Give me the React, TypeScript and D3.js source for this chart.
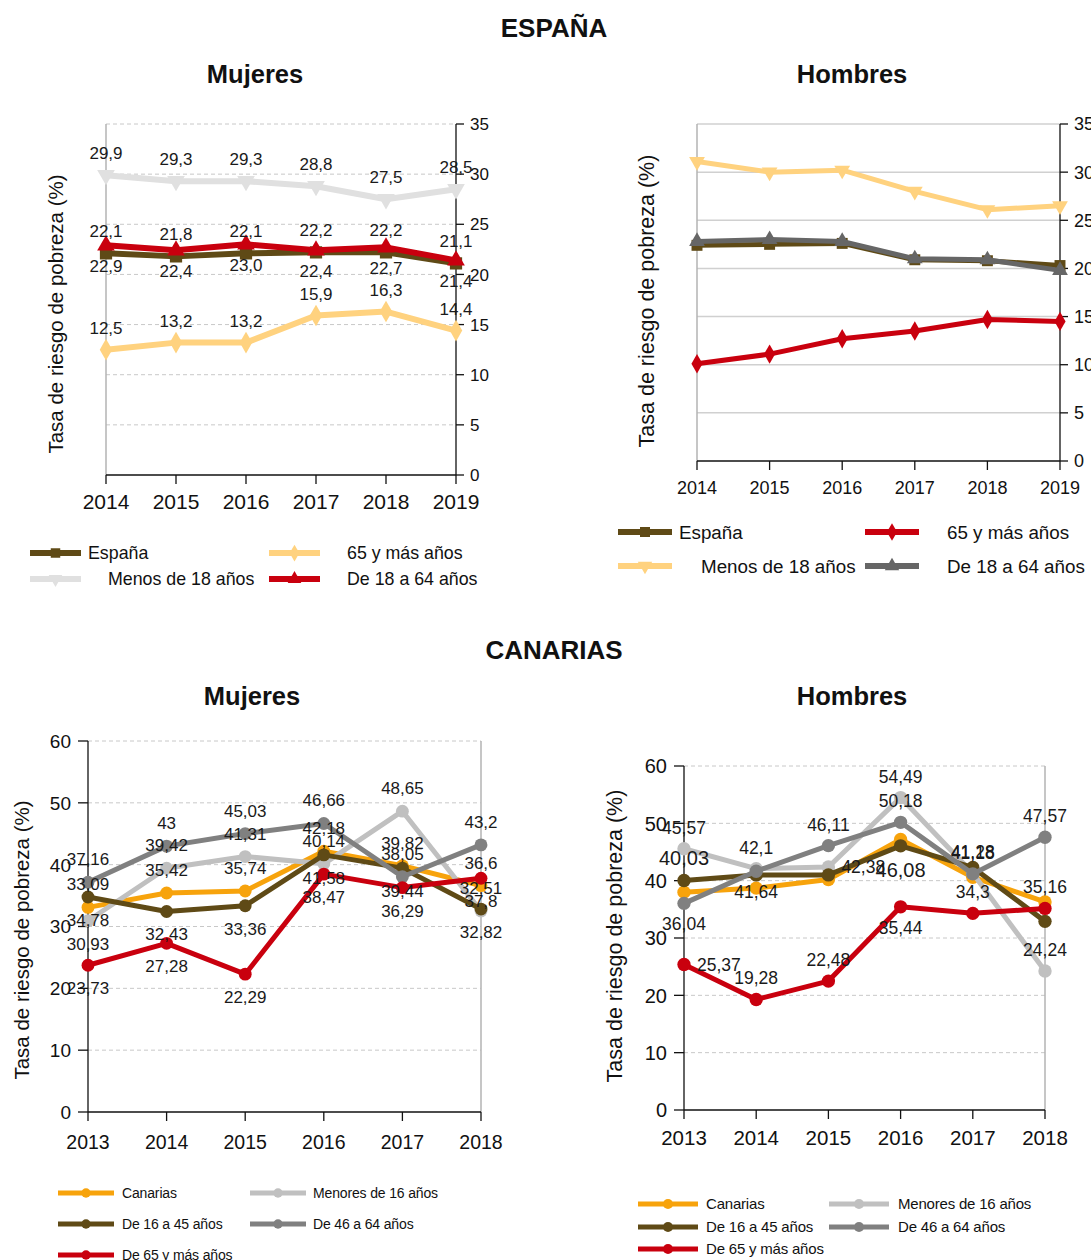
import React from 'react';
import * as d3 from 'd3';

const FONT = "'Liberation Sans', Arial, Helvetica, sans-serif";

// ---------- ESPAÑA ----------
const yearsEsp = [2014, 2015, 2016, 2017, 2018, 2019];
const espTicks = [0, 5, 10, 15, 20, 25, 30, 35];

const espMujEspana = [22.1, 21.8, 22.1, 22.2, 22.2, 21.1];
const espMujMenos18 = [29.9, 29.3, 29.3, 28.8, 27.5, 28.5];
const espMuj65 = [12.5, 13.2, 13.2, 15.9, 16.3, 14.4];
const espMuj18a64 = [22.9, 22.4, 23.0, 22.4, 22.7, 21.4];

const espHomEspana = [22.4, 22.5, 22.6, 20.9, 20.8, 20.3];
const espHomMenos18 = [31.1, 30.0, 30.2, 28.0, 26.1, 26.5];
const espHom65 = [10.1, 11.1, 12.7, 13.5, 14.7, 14.5];
const espHom18a64 = [22.8, 23.0, 22.8, 21.0, 20.9, 19.8];

// ---------- CANARIAS ----------
const yearsCan = [2013, 2014, 2015, 2016, 2017, 2018];
const canTicks = [0, 10, 20, 30, 40, 50, 60];

const canMujCanarias = [33.09, 35.42, 35.74, 42.18, 39.82, 36.6];
const canMujMenores16 = [30.93, 39.42, 41.31, 40.14, 48.65, 32.51];
const canMuj16a45 = [34.78, 32.43, 33.36, 41.58, 39.44, 32.82];
const canMuj46a64 = [37.16, 43, 45.03, 46.66, 38.05, 43.2];
const canMuj65 = [23.73, 27.28, 22.29, 38.47, 36.29, 37.8];

const canHomCanarias = [38.0, 38.7, 40.2, 47.2, 40.6, 36.3];
const canHomMenores16 = [45.57, 42.1, 42.38, 54.49, 41.28, 24.24];
const canHom16a45 = [40.03, 41.0, 41.0, 46.08, 42.3, 32.9];
const canHom46a64 = [36.04, 41.64, 46.11, 50.18, 41.18, 47.57];
const canHom65 = [25.37, 19.28, 22.48, 35.44, 34.3, 35.16];

// data-label placement: a = above, b = below, r = right, null = no label
type LP = 'a' | 'b' | 'r' | null;
const allA: LP[] = ['a', 'a', 'a', 'a', 'a', 'a'];
const allB: LP[] = ['b', 'b', 'b', 'b', 'b', 'b'];
const none: LP[] = [null, null, null, null, null, null];
const canMujMenores16Pos: LP[] = ['b', 'a', 'a', 'a', 'a', 'a'];
const canHomMenores16Pos: LP[] = ['a', 'a', 'r', 'a', 'a', 'a'];
const canHom16a45Pos: LP[] = ['a', null, null, 'b', null, null];
const canHom46a64Pos: LP[] = ['b', 'b', 'a', 'a', 'a', 'a'];
const canHom65Pos: LP[] = ['r', 'a', 'a', 'b', 'a', 'a'];

const C = {
  brown: '#5f4a16',
  lightGray: '#e0e0e0',
  paleOrange: '#ffd27f',
  red: '#c9000e',
  darkGray: '#666666',
  orange: '#f7a30c',
  silver: '#c0c0c0',
  gray: '#808080',
};

type Sym = 'square' | 'tri' | 'triDown' | 'diamond' | 'circle';

interface Series {
  name: string;
  values: number[];
  color: string;
  sym: Sym;
  pos: LP[];
  big?: boolean;
}

interface PanelCfg {
  years: number[];
  ticks: number[];
  x0: number; x1: number; yB: number; yT: number;
  axis: 'left' | 'right';
  grid: 'dash' | 'solid';
  topSolid?: boolean;
  tickFont: number; yearFont: number; yearBase: number;
  lineW: number; markSize: number;
  labelFont: number; bigFont?: number;
  offA: number; offB: number;
  fmt: (v: number) => string;
  series: Series[];
  title: string; titleX: number; titleY: number;
  yTitleX: number; yTitleY: number; yTitleFont: number;
}

function symPath(sym: Sym, size: number) {
  const t = sym === 'square' ? d3.symbolSquare : sym === 'diamond' ? d3.symbolDiamond : sym === 'circle' ? d3.symbolCircle : d3.symbolTriangle;
  return d3.symbol().type(t).size(size)() as string;
}

function Marker({ sym, x, y, size, color }: { sym: Sym; x: number; y: number; size: number; color: string }) {
  const rot = sym === 'triDown' ? ' rotate(180)' : '';
  const s = sym === 'tri' || sym === 'triDown' ? size * 0.9 : sym === 'diamond' ? size * 0.9 : size;
  return <path d={symPath(sym, s)} transform={`translate(${x},${y})${rot}`} fill={color} />;
}

const fmt1 = (v: number) => d3.format('.1f')(v).replace('.', ',');
const fmtRaw = (v: number) => String(v).replace('.', ',');

function Panel({ c }: { c: PanelCfg }) {
  const x = d3.scalePoint<string>().domain(c.years.map(String)).range([c.x0, c.x1]);
  const y = d3.scaleLinear().domain([0, c.ticks[c.ticks.length - 1]]).range([c.yB, c.yT]);
  const px = (i: number) => x(String(c.years[i])) as number;
  const line = d3.line<number>().x((_, i) => px(i)).y((d) => y(d));
  const axX = c.axis === 'right' ? c.x1 : c.x0;
  const borderX = c.axis === 'right' ? c.x0 : c.x1;
  return (
    <g>
      <text x={c.titleX} y={c.titleY} textAnchor="middle" fontWeight="bold" fontSize={25.5} fill="#111">{c.title}</text>
      {c.ticks.filter((t) => t > 0).map((t) => (
        <line key={t} x1={c.x0} x2={c.x1} y1={y(t)} y2={y(t)}
          stroke={c.grid === 'dash' ? '#c8c8c8' : '#d0d0d0'}
          strokeWidth={c.grid === 'dash' ? 1 : 1.5}
          strokeDasharray={c.grid === 'dash' && !(c.topSolid && t === c.ticks[c.ticks.length - 1]) ? '4,3' : undefined} />
      ))}
      <line x1={borderX} x2={borderX} y1={c.yT} y2={c.yB} stroke="#b3b3b3" strokeWidth={1.5} />
      {/* value axis */}
      <line x1={axX} x2={axX} y1={c.yT} y2={c.yB} stroke="#111" strokeWidth={1.3} />
      {c.ticks.map((t) => (
        <g key={t}>
          <line x1={axX} x2={c.axis === 'right' ? axX + 8 : axX - 10} y1={y(t)} y2={y(t)} stroke="#111" strokeWidth={1.3} />
          <text x={c.axis === 'right' ? axX + 14 : axX - 17} y={y(t) + c.tickFont * 0.36}
            textAnchor={c.axis === 'right' ? 'start' : 'end'} fontSize={c.tickFont} fill="#111">{t}</text>
        </g>
      ))}
      {/* category axis */}
      <line x1={c.x0} x2={c.x1} y1={c.yB} y2={c.yB} stroke="#111" strokeWidth={1.3} />
      {c.years.map((yr, i) => (
        <g key={yr}>
          <line x1={px(i)} x2={px(i)} y1={c.yB} y2={c.yB + 9} stroke="#111" strokeWidth={1.3} />
          <text x={px(i)} y={c.yearBase} textAnchor="middle" fontSize={c.yearFont} fill="#111">{yr}</text>
        </g>
      ))}
      <text transform={`translate(${c.yTitleX},${c.yTitleY}) rotate(-90)`} textAnchor="middle"
        fontSize={c.yTitleFont} fill="#111">Tasa de riesgo de pobreza (%)</text>
      {c.series.map((s) => (
        <g key={s.name}>
          <path d={line(s.values) as string} fill="none" stroke={s.color} strokeWidth={c.lineW} strokeLinejoin="round" />
          {s.values.map((v, i) => (
            <Marker key={i} sym={s.sym} x={px(i)} y={y(v)} size={c.markSize} color={s.color} />
          ))}
        </g>
      ))}
      {c.series.map((s) => (
        <g key={s.name + 'l'}>
          {s.values.map((v, i) => {
            const p = s.pos[i];
            if (!p) return null;
            const fs = s.big && c.bigFont ? c.bigFont : c.labelFont;
            const cx = px(i), cy = y(v);
            if (p === 'r') {
              return <text key={i} x={cx + 13} y={cy + fs * 0.36} fontSize={fs} fill="#1a1a1a">{c.fmt(v)}</text>;
            }
            const ty = p === 'a' ? cy - c.offA : cy + c.offB + (s.big ? 4 : 0);
            return <text key={i} x={cx} y={ty} textAnchor="middle" fontSize={fs} fill="#1a1a1a">{c.fmt(v)}</text>;
          })}
        </g>
      ))}
    </g>
  );
}

interface LegItem { name: string; color: string; sym: Sym; lx: number; tx: number; y: number; }

function Legend({ items, lineLen, lineW, markSize, font, spacing }: { items: LegItem[]; lineLen: number; lineW: number; markSize: number; font: number; spacing?: number }) {
  return (
    <g>
      {items.map((it) => (
        <g key={it.name}>
          <line x1={it.lx} x2={it.lx + lineLen} y1={it.y} y2={it.y} stroke={it.color} strokeWidth={lineW} />
          <Marker sym={it.sym} x={it.lx + lineLen / 2} y={it.y} size={markSize} color={it.color} />
          <text x={it.tx} y={it.y + font * 0.36} fontSize={font} fill="#111" letterSpacing={spacing}>{it.name}</text>
        </g>
      ))}
    </g>
  );
}

const espMujCfg: PanelCfg = {
  years: yearsEsp, ticks: espTicks, x0: 106, x1: 456, yB: 475, yT: 124,
  axis: 'right', grid: 'dash', tickFont: 17, yearFont: 21, yearBase: 509,
  lineW: 6, markSize: 150, labelFont: 17, offA: 16, offB: 27, fmt: fmt1,
  title: 'Mujeres', titleX: 255, titleY: 83, yTitleX: 63, yTitleY: 314, yTitleFont: 20.5,
  series: [
    { name: 'Menos de 18 años', values: espMujMenos18, color: C.lightGray, sym: 'triDown', pos: allA },
    { name: '65 y más años', values: espMuj65, color: C.paleOrange, sym: 'diamond', pos: allA },
    { name: 'España', values: espMujEspana, color: C.brown, sym: 'square', pos: allA },
    { name: 'De 18 a 64 años', values: espMuj18a64, color: C.red, sym: 'tri', pos: allB },
  ],
};

const espHomCfg: PanelCfg = {
  years: yearsEsp, ticks: espTicks, x0: 697, x1: 1060, yB: 461, yT: 124,
  axis: 'right', grid: 'solid', tickFont: 18, yearFont: 18, yearBase: 494,
  lineW: 5, markSize: 120, labelFont: 17, offA: 16, offB: 27, fmt: fmt1,
  title: 'Hombres', titleX: 852, titleY: 83, yTitleX: 654, yTitleY: 301, yTitleFont: 21.5,
  series: [
    { name: 'Menos de 18 años', values: espHomMenos18, color: C.paleOrange, sym: 'triDown', pos: none },
    { name: '65 y más años', values: espHom65, color: C.red, sym: 'diamond', pos: none },
    { name: 'España', values: espHomEspana, color: C.brown, sym: 'square', pos: none },
    { name: 'De 18 a 64 años', values: espHom18a64, color: C.darkGray, sym: 'tri', pos: none },
  ],
};

const canMujCfg: PanelCfg = {
  years: yearsCan, ticks: canTicks, x0: 88, x1: 481, yB: 1112, yT: 741,
  axis: 'left', grid: 'dash', tickFont: 19, yearFont: 19.5, yearBase: 1149,
  lineW: 5, markSize: 130, labelFont: 17, offA: 17, offB: 29, fmt: fmtRaw,
  title: 'Mujeres', titleX: 252, titleY: 705, yTitleX: 29, yTitleY: 940, yTitleFont: 20.5,
  series: [
    { name: 'Canarias', values: canMujCanarias, color: C.orange, sym: 'circle', pos: allA },
    { name: 'Menores de 16 años', values: canMujMenores16, color: C.silver, sym: 'circle', pos: canMujMenores16Pos },
    { name: 'De 16 a 45 años', values: canMuj16a45, color: C.brown, sym: 'circle', pos: allB },
    { name: 'De 46 a 64 años', values: canMuj46a64, color: C.gray, sym: 'circle', pos: allA },
    { name: 'De 65 y más años', values: canMuj65, color: C.red, sym: 'circle', pos: allB },
  ],
};

const canHomCfg: PanelCfg = {
  years: yearsCan, ticks: canTicks, x0: 684, x1: 1045, yB: 1110, yT: 766,
  axis: 'left', grid: 'dash', tickFont: 20, yearFont: 20.5, yearBase: 1145,
  lineW: 5, markSize: 140, labelFont: 17.5, bigFont: 20, offA: 15, offB: 27, fmt: fmtRaw,
  title: 'Hombres', titleX: 852, titleY: 705, yTitleX: 622, yTitleY: 936, yTitleFont: 21.5,
  series: [
    { name: 'Canarias', values: canHomCanarias, color: C.orange, sym: 'circle', pos: none },
    { name: 'Menores de 16 años', values: canHomMenores16, color: C.silver, sym: 'circle', pos: canHomMenores16Pos },
    { name: 'De 16 a 45 años', values: canHom16a45, color: C.brown, sym: 'circle', pos: canHom16a45Pos, big: true },
    { name: 'De 46 a 64 años', values: canHom46a64, color: C.gray, sym: 'circle', pos: canHom46a64Pos },
    { name: 'De 65 y más años', values: canHom65, color: C.red, sym: 'circle', pos: canHom65Pos },
  ],
};

const espMujLegend: LegItem[] = [
  { name: 'España', color: C.brown, sym: 'square', lx: 30, tx: 88, y: 553 },
  { name: 'Menos de 18 años', color: C.lightGray, sym: 'triDown', lx: 30, tx: 108, y: 579 },
  { name: '65 y más años', color: C.paleOrange, sym: 'diamond', lx: 269, tx: 347, y: 553 },
  { name: 'De 18 a 64 años', color: C.red, sym: 'tri', lx: 269, tx: 347, y: 579 },
];
const espHomLegend: LegItem[] = [
  { name: 'España', color: C.brown, sym: 'square', lx: 618, tx: 679, y: 532 },
  { name: 'Menos de 18 años', color: C.paleOrange, sym: 'triDown', lx: 618, tx: 701, y: 566 },
  { name: '65 y más años', color: C.red, sym: 'diamond', lx: 865, tx: 947, y: 532 },
  { name: 'De 18 a 64 años', color: C.darkGray, sym: 'tri', lx: 865, tx: 947, y: 566 },
];
const canMujLegend: LegItem[] = [
  { name: 'Canarias', color: C.orange, sym: 'circle', lx: 58, tx: 122, y: 1193 },
  { name: 'Menores de 16 años', color: C.silver, sym: 'circle', lx: 250, tx: 313, y: 1193 },
  { name: 'De 16 a 45 años', color: C.brown, sym: 'circle', lx: 58, tx: 122, y: 1224 },
  { name: 'De 46 a 64 años', color: C.gray, sym: 'circle', lx: 250, tx: 313, y: 1224 },
  { name: 'De 65 y más años', color: C.red, sym: 'circle', lx: 58, tx: 122, y: 1255 },
];
const canHomLegend: LegItem[] = [
  { name: 'Canarias', color: C.orange, sym: 'circle', lx: 638, tx: 706, y: 1204 },
  { name: 'Menores de 16 años', color: C.silver, sym: 'circle', lx: 829, tx: 898, y: 1204 },
  { name: 'De 16 a 45 años', color: C.brown, sym: 'circle', lx: 638, tx: 706, y: 1227 },
  { name: 'De 46 a 64 años', color: C.gray, sym: 'circle', lx: 829, tx: 898, y: 1227 },
  { name: 'De 65 y más años', color: C.red, sym: 'circle', lx: 638, tx: 706, y: 1249 },
];

export default function App() {
  return (
    <svg width={1091} height={1260} style={{ position: 'absolute', left: 0, top: 0, background: '#fff' }}
      fontFamily={FONT}>
      <rect width={1091} height={1260} fill="#fff" />
      <text x={554} y={37} textAnchor="middle" fontWeight="bold" fontSize={26} fill="#111">ESPAÑA</text>
      <text x={554} y={659} textAnchor="middle" fontWeight="bold" fontSize={26} fill="#111">CANARIAS</text>
      <Panel c={espMujCfg} />
      <Panel c={espHomCfg} />
      <Panel c={canMujCfg} />
      <Panel c={canHomCfg} />
      <Legend items={espMujLegend} lineLen={51} lineW={6} markSize={90} font={17.8} />
      <Legend items={espHomLegend} lineLen={54} lineW={6} markSize={100} font={18.8} />
      <Legend items={canMujLegend} lineLen={56} lineW={5} markSize={70} font={14} spacing={-0.15} />
      <Legend items={canHomLegend} lineLen={60} lineW={5} markSize={80} font={15} spacing={-0.2} />
    </svg>
  );
}
